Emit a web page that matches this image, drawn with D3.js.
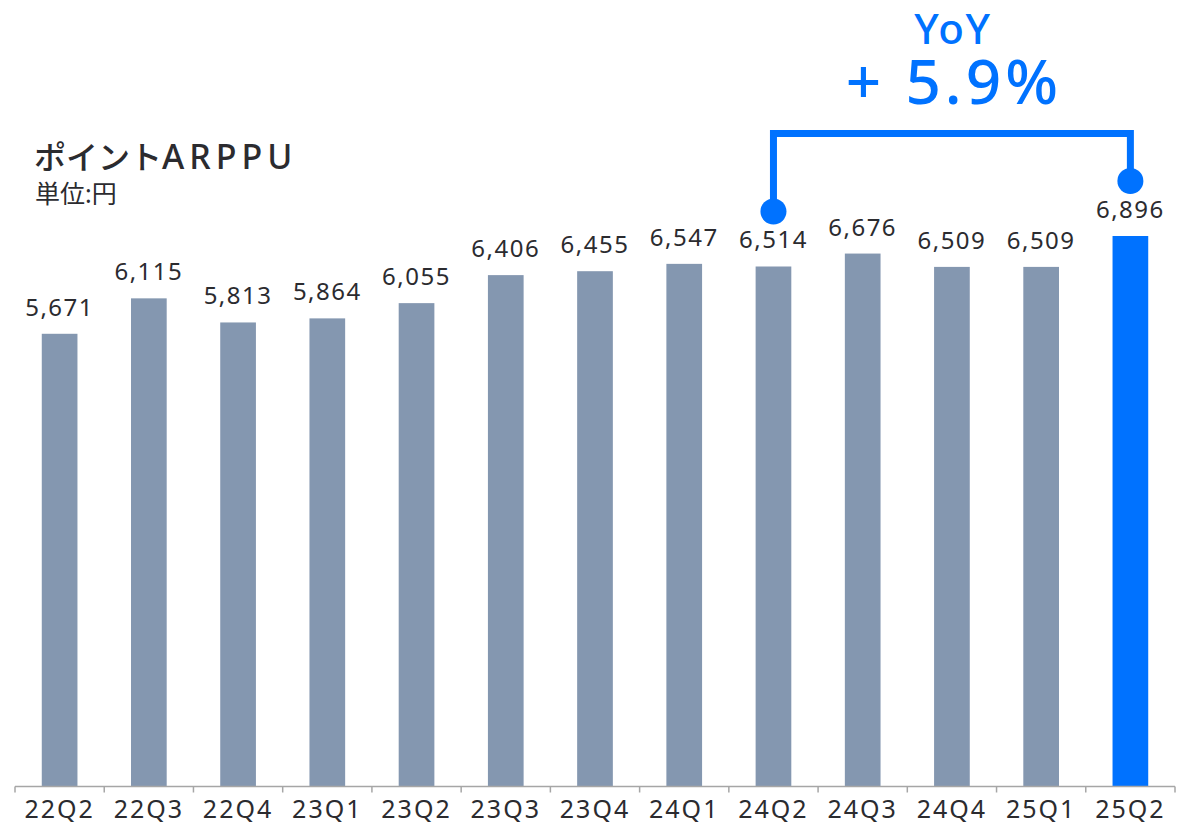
<!DOCTYPE html>
<html>
<head>
<meta charset="utf-8">
<script src="https://cdn.jsdelivr.net/npm/d3@7"></script>
<style>
  html, body { margin: 0; padding: 0; background: #fff; }
  svg text { font-family: "Noto Sans", "Noto Sans CJK JP", sans-serif; }
</style>
</head>
<body>
<div id="chart"></div>
<script>
// data
const quarters = ["22Q2","22Q3","22Q4","23Q1","23Q2","23Q3","23Q4","24Q1","24Q2","24Q3","24Q4","25Q1","25Q2"];
const arppu = [5671, 6115, 5813, 5864, 6055, 6406, 6455, 6547, 6514, 6676, 6509, 6509, 6896];
const yoyFrom = "24Q2";
const yoyTo = "25Q2";
const yoyLabel = "+ 5.9%";

const width = 1191, height = 825;
const margin = {top: 236, right: 16, bottom: 38, left: 15};
const grey = "#8497b0", blue = "#0072ff", ink = "#2b2b2f";

const svg = d3.select("#chart").append("svg")
  .attr("width", width)
  .attr("height", height);

const x = d3.scaleBand()
  .domain(quarters)
  .range([margin.left, width - margin.right])
  .paddingInner(0.6)
  .paddingOuter(0.3);

const y = d3.scaleLinear()
  .domain([0, d3.max(arppu)])
  .range([height - margin.bottom - 0.5, margin.top]);

const rows = quarters.map((q, i) => ({q: q, v: arppu[i]}));
const fmt = d3.format(",");

// bars
svg.append("g").selectAll("rect")
  .data(rows)
  .join("rect")
  .attr("x", d => x(d.q))
  .attr("y", d => y(d.v))
  .attr("width", x.bandwidth())
  .attr("height", d => y(0) - y(d.v))
  .attr("fill", d => d.q === yoyTo ? blue : grey);

// value labels
svg.append("g").selectAll("text")
  .data(rows)
  .join("text")
  .attr("x", d => x(d.q) + x.bandwidth() / 2)
  .attr("y", d => y(d.v) - 18)
  .attr("text-anchor", "middle")
  .attr("font-size", 24)
  .attr("fill", ink)
  .style("letter-spacing", "1.5px")
  .text(d => fmt(d.v));

// x axis, ticks sit between categories
const axisY = y(0);
const edges = d3.range(quarters.length + 1).map(i => margin.left + i * (width - margin.right - margin.left) / quarters.length);
const axis = svg.append("g");
axis.append("line")
  .attr("x1", edges[0]).attr("x2", edges[edges.length - 1])
  .attr("y1", axisY).attr("y2", axisY)
  .attr("stroke", "#a6a6a6").attr("stroke-width", 1.5);
axis.selectAll("line.tick")
  .data(edges)
  .join("line")
  .attr("class", "tick")
  .attr("x1", d => d).attr("x2", d => d)
  .attr("y1", axisY).attr("y2", axisY + 6)
  .attr("stroke", "#a6a6a6").attr("stroke-width", 1.5);
axis.selectAll("text")
  .data(quarters)
  .join("text")
  .attr("x", d => x(d) + x.bandwidth() / 2)
  .attr("y", axisY + 31)
  .attr("text-anchor", "middle")
  .attr("font-size", 25)
  .attr("fill", ink)
  .style("letter-spacing", "2px")
  .text(d => d);

// title
const title = svg.append("text")
  .attr("x", 34).attr("y", 169)
  .attr("font-size", 32)
  .attr("font-weight", 500)
  .attr("fill", ink);
title.append("tspan").text("ポイント");
title.append("tspan")
  .attr("font-size", 34)
  .style("letter-spacing", "5px")
  .text("ARPPU");
svg.append("text")
  .attr("x", 35).attr("y", 203)
  .attr("font-size", 25)
  .attr("fill", ink)
  .text("単位:円");

// YoY bracket
const v0 = arppu[quarters.indexOf(yoyFrom)];
const v1 = arppu[quarters.indexOf(yoyTo)];
const cx0 = x(yoyFrom) + x.bandwidth() / 2;
const cx1 = x(yoyTo) + x.bandwidth() / 2;
const dot0 = y(v0) - 55;
const dot1 = y(v1) - 55;
const barY = 133.5;

svg.append("path")
  .attr("d", `M${cx0},${dot0} V${barY} H${cx1} V${dot1}`)
  .attr("fill", "none")
  .attr("stroke", blue)
  .attr("stroke-width", 7);
svg.selectAll("circle.dot")
  .data([[cx0, dot0], [cx1, dot1]])
  .join("circle")
  .attr("class", "dot")
  .attr("cx", d => d[0]).attr("cy", d => d[1])
  .attr("r", 13)
  .attr("fill", blue);

const mid = (cx0 + cx1) / 2;
svg.append("text")
  .attr("x", mid + 1).attr("y", 44)
  .attr("text-anchor", "middle")
  .attr("font-size", 42)
  .attr("font-weight", 500)
  .attr("fill", blue)
  .style("letter-spacing", "1.5px")
  .text("YoY");
svg.append("text")
  .attr("x", mid + 2).attr("y", 104)
  .attr("text-anchor", "middle")
  .attr("font-size", 62)
  .attr("font-weight", 500)
  .attr("fill", blue)
  .style("letter-spacing", "4px")
  .text(yoyLabel);
</script>
</body>
</html>
